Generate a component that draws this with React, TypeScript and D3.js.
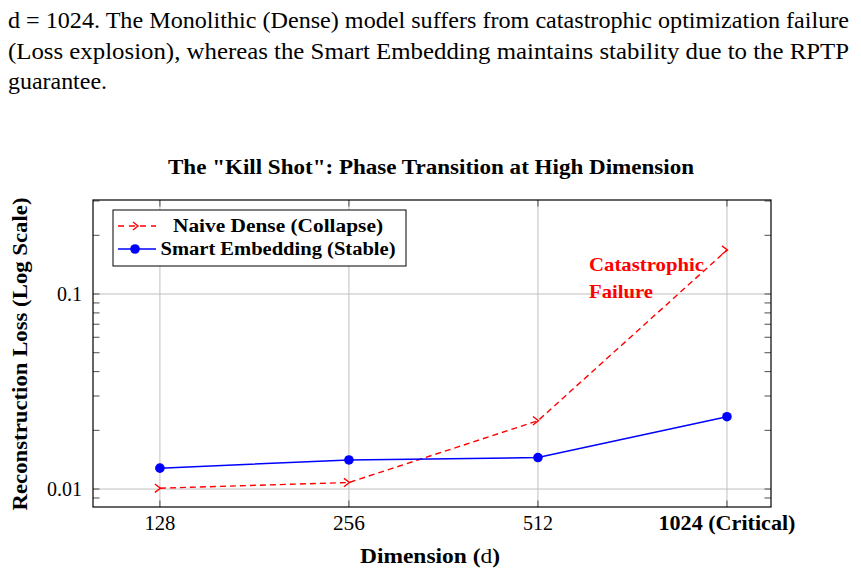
import React from "react";
import * as d3 from "d3";

const categories = ["128", "256", "512", "1024 (Critical)"];
const naiveDense = [0.0101, 0.0108, 0.0224, 0.168];
const smartEmbedding = [0.0128, 0.0141, 0.0145, 0.0235];
const yMajorTicks = [0.01, 0.1];
const yTickLabels = ["0.01", "0.1"];
const yMinorTicks = [0.009, 0.02, 0.03, 0.04, 0.05, 0.06, 0.07, 0.08, 0.09, 0.2, 0.3];
const paragraph = [
  "d = 1024. The Monolithic (Dense) model suffers from catastrophic optimization failure",
  "(Loss explosion), whereas the Smart Embedding maintains stability due to the RPTP",
  "guarantee.",
];

const W = 861;
const H = 573;
const L = 93, R = 771, T = 200, B = 507;
const FONT = "'Liberation Serif', 'DejaVu Serif', serif";

export default function App() {
  const x = d3.scaleLinear().domain([-0.354, 3.233]).range([L, R]);
  const y = d3.scaleLog().domain([0.00809, 0.3034]).range([B, T]);
  const idx = categories.map((_, i) => i);
  const line = d3
    .line<number>()
    .x((_, i) => x(i))
    .y((d) => y(d));
  const gridColor = "#bfbfbf";
  const tickColor = "#4d4d4d";
  const tickLen = 6.5;
  const xLabelWidths = [31, 32, 30, 137];
  const yLabelWidths = [35, 25];

  return (
    <svg
      width={W}
      height={H}
      style={{ position: "absolute", left: 0, top: 0, background: "#fff" }}
      fontFamily={FONT}
    >
      {/* paragraph */}
      <text x={8} y={28} fontSize={23} textLength={841} lengthAdjust="spacingAndGlyphs">
        {paragraph[0]}
      </text>
      <text x={8} y={59} fontSize={23} textLength={841} lengthAdjust="spacingAndGlyphs">
        {paragraph[1]}
      </text>
      <text x={8} y={89} fontSize={23} textLength={99} lengthAdjust="spacingAndGlyphs">
        {paragraph[2]}
      </text>

      {/* title */}
      <text
        x={431}
        y={174}
        fontSize={20}
        fontWeight="bold"
        textAnchor="middle"
        textLength={526}
        lengthAdjust="spacingAndGlyphs"
      >
        The "Kill Shot": Phase Transition at High Dimension
      </text>

      {/* grid */}
      {idx.map((i) => (
        <line key={"gx" + i} x1={x(i)} x2={x(i)} y1={T} y2={B} stroke={gridColor} strokeWidth={1} />
      ))}
      {yMajorTicks.map((v) => (
        <line key={"gy" + v} x1={L} x2={R} y1={y(v)} y2={y(v)} stroke={gridColor} strokeWidth={1} />
      ))}

      {/* ticks */}
      {idx.map((i) => (
        <g key={"tx" + i}>
          <line x1={x(i)} x2={x(i)} y1={B} y2={B - tickLen} stroke={tickColor} strokeWidth={1} />
          <line x1={x(i)} x2={x(i)} y1={T} y2={T + tickLen} stroke={tickColor} strokeWidth={1} />
        </g>
      ))}
      {[...yMajorTicks, ...yMinorTicks].map((v) => (
        <g key={"ty" + v}>
          <line x1={L} x2={L + tickLen} y1={y(v)} y2={y(v)} stroke={tickColor} strokeWidth={1} />
          <line x1={R} x2={R - tickLen} y1={y(v)} y2={y(v)} stroke={tickColor} strokeWidth={1} />
        </g>
      ))}

      {/* frame */}
      <rect x={L} y={T} width={R - L} height={B - T} fill="none" stroke="#000" strokeWidth={1.2} />

      {/* series */}
      <path
        d={line(naiveDense) || ""}
        fill="none"
        stroke="#ff0000"
        strokeWidth={1.4}
        strokeDasharray="6,4"
      />
      {naiveDense.map((v, i) => (
        <path
          key={"rm" + i}
          transform={`translate(${x(i)},${y(v)})`}
          d="M-5,-4.2 L0.5,0 L-5,4.2"
          fill="none"
          stroke="#ff0000"
          strokeWidth={1.4}
        />
      ))}
      <path d={line(smartEmbedding) || ""} fill="none" stroke="#0000ff" strokeWidth={1.5} />
      {smartEmbedding.map((v, i) => (
        <circle key={"bm" + i} cx={x(i)} cy={y(v)} r={4.8} fill="#0000ff" />
      ))}

      {/* annotation */}
      <text x={589} y={271} fontSize={19} fontWeight="bold" fill="#ff0000" textLength={115} lengthAdjust="spacingAndGlyphs">
        Catastrophic
      </text>
      <text x={589} y={298} fontSize={19} fontWeight="bold" fill="#ff0000" textLength={64} lengthAdjust="spacingAndGlyphs">
        Failure
      </text>

      {/* legend */}
      <rect x={113} y={210} width={293} height={56} fill="#fff" stroke="#000" strokeWidth={1} />
      <line x1={118} x2={156} y1={226} y2={226} stroke="#ff0000" strokeWidth={1.4} strokeDasharray="6,5" />
      <path d="M133,222 L138,226 L133,230" fill="none" stroke="#ff0000" strokeWidth={1.4} />
      <text x={278} y={232} fontSize={18} fontWeight="bold" textAnchor="middle" textLength={210} lengthAdjust="spacingAndGlyphs">
        Naive Dense (Collapse)
      </text>
      <line x1={118} x2={156} y1={249} y2={249} stroke="#0000ff" strokeWidth={1.5} />
      <circle cx={135} cy={249} r={4.8} fill="#0000ff" />
      <text x={278} y={255} fontSize={18} fontWeight="bold" textAnchor="middle" textLength={235} lengthAdjust="spacingAndGlyphs">
        Smart Embedding (Stable)
      </text>

      {/* y tick labels */}
      {yMajorTicks.map((v, i) => (
        <text
          key={"yl" + v}
          x={82}
          y={y(v) + 7}
          fontSize={22}
          textAnchor="end"
          textLength={yLabelWidths[i]}
          lengthAdjust="spacingAndGlyphs"
        >
          {yTickLabels[i]}
        </text>
      ))}

      {/* x tick labels */}
      {categories.map((c, i) => (
        <text
          key={"xl" + i}
          x={x(i)}
          y={530}
          fontSize={22}
          textAnchor="middle"
          fontWeight={i === 3 ? "bold" : "normal"}
          textLength={xLabelWidths[i]}
          lengthAdjust="spacingAndGlyphs"
        >
          {c}
        </text>
      ))}

      {/* axis titles */}
      <text x={430} y={563} fontSize={21} textAnchor="middle" textLength={140} lengthAdjust="spacingAndGlyphs">
        <tspan fontWeight="bold">Dimension (</tspan>
        <tspan>d</tspan>
        <tspan fontWeight="bold">)</tspan>
      </text>
      <text
        transform={`translate(27,${354}) rotate(-90)`}
        fontSize={20}
        fontWeight="bold"
        textAnchor="middle"
        textLength={313}
        lengthAdjust="spacingAndGlyphs"
      >
        Reconstruction Loss (Log Scale)
      </text>
    </svg>
  );
}
